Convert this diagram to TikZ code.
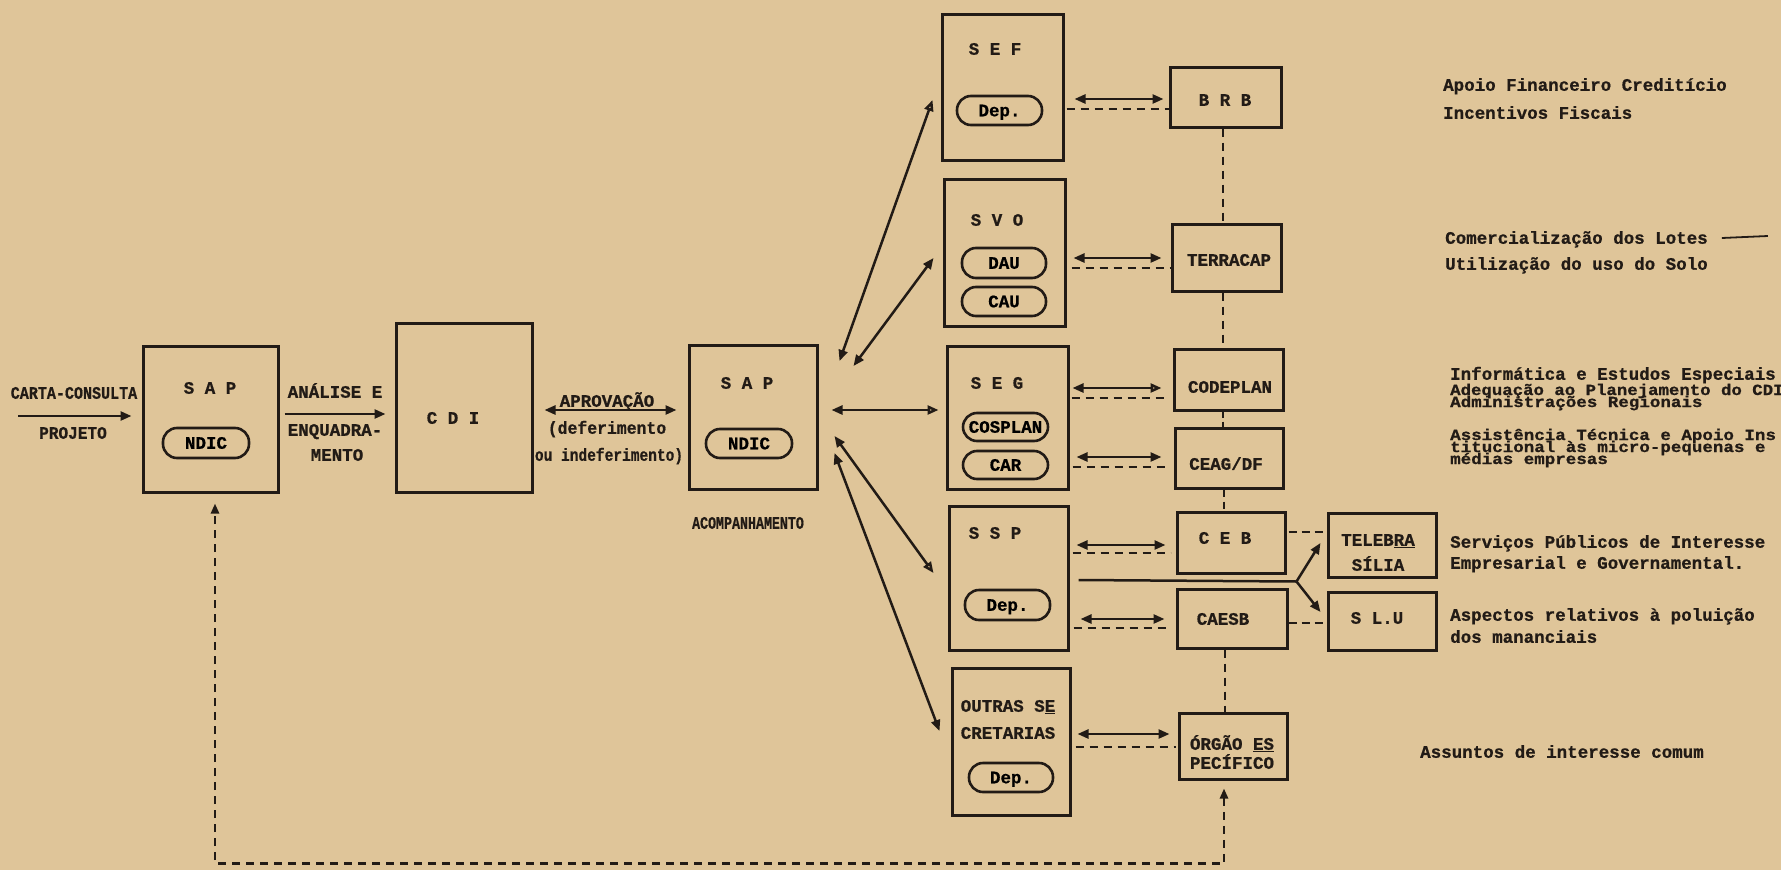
\documentclass[tikz,border=0pt]{standalone}
\usepackage{fontspec}
\setmainfont{Liberation Mono}[BoldFeatures={FakeBold=0.8}]
\usetikzlibrary{arrows.meta,calc}
\definecolor{paper}{RGB}{223,197,153}
\definecolor{ink}{RGB}{34,27,22}
\tikzset{
  box/.style={draw=ink, line width=3pt, inner sep=0pt},
  pill/.style={draw=ink, line width=2.6pt, rounded corners=14pt, inner sep=0pt, text height=11.5pt, text depth=0pt},
  t/.style={inner sep=0pt, text=ink, text height=11.5pt, text depth=0pt},
  tw/.style={t, anchor=west},
  tws/.style={inner sep=0pt, text=ink, anchor=west, text height=9.5pt, text depth=1.5pt, font=\bfseries\fontsize{15.5}{16}\selectfont},
  ar/.style={draw=ink, line width=2.5pt},
  dbl/.style={ar, {Triangle[length=11pt,width=9pt]}-{Triangle[length=11pt,width=9pt]}},
  dblo/.style={ar, {Triangle[length=11pt,width=9pt]}-{Triangle[open,length=11pt,width=9pt]}},
  sgl/.style={ar, -{Triangle[length=11pt,width=9pt]}},
  dsh/.style={draw=ink, line width=2.6pt, dash pattern=on 8pt off 6pt},
}
\begin{document}
\begin{tikzpicture}[x=1pt,y=-1pt, font=\bfseries\fontsize{17.5}{20}\selectfont]
\fill[paper] (0,0) rectangle (1781,870);
\useasboundingbox (0,0) rectangle (1781,870);
\clip (0,0) rectangle (1781,870);

% ---------- main boxes ----------
\node[box, minimum width=135pt, minimum height=146pt] (sap1) at (210.5,419) {};
\node[box, minimum width=136pt, minimum height=169pt] (cdi) at (464,407.5) {};
\node[box, minimum width=128pt, minimum height=144pt] (sap2) at (753,417) {};
\node[box, minimum width=121pt, minimum height=146pt] (sef) at (1002.5,87) {};
\node[box, minimum width=121pt, minimum height=147pt] (svo) at (1004.5,252.5) {};
\node[box, minimum width=121pt, minimum height=143pt] (seg) at (1007.5,417.5) {};
\node[box, minimum width=119pt, minimum height=144pt] (ssp) at (1008.5,578) {};
\node[box, minimum width=118pt, minimum height=147pt] (outras) at (1011,741.5) {};

\node[box, minimum width=111pt, minimum height=60pt] (brb) at (1225.5,97) {};
\node[box, minimum width=109pt, minimum height=67pt] (terr) at (1226.5,257.5) {};
\node[box, minimum width=109pt, minimum height=61pt] (codeplan) at (1228.5,379.5) {};
\node[box, minimum width=108pt, minimum height=60pt] (ceag) at (1229,458) {};
\node[box, minimum width=108pt, minimum height=61pt] (ceb) at (1231,542.5) {};
\node[box, minimum width=110pt, minimum height=59pt] (caesb) at (1232,618.5) {};
\node[box, minimum width=108pt, minimum height=66pt] (orgao) at (1233,746) {};
\node[box, minimum width=108pt, minimum height=64pt] (tele) at (1382,545) {};
\node[box, minimum width=108pt, minimum height=58pt] (slu) at (1382,621) {};

% ---------- pills ----------
\node[pill, minimum width=86pt, minimum height=30pt] (ndic1) at (206,443) {NDIC};
\node[pill, minimum width=86pt, minimum height=29pt] (ndic2) at (749,443.5) {NDIC};
\node[pill, minimum width=85pt, minimum height=29pt] (sefdep) at (999.5,110.5) {Dep.};
\node[pill, minimum width=84pt, minimum height=30pt] (dau) at (1004,263) {DAU};
\node[pill, minimum width=84pt, minimum height=29pt] (cau) at (1004,301.5) {CAU};
\node[pill, minimum width=85pt, minimum height=28pt] (cosplan) at (1005.5,427) {COSPLAN};
\node[pill, minimum width=85pt, minimum height=28pt] (car) at (1005.5,465) {CAR};
\node[pill, minimum width=85pt, minimum height=30pt] (sspdep) at (1007.5,605) {Dep.};
\node[pill, minimum width=84pt, minimum height=29pt] (outdep) at (1011,777.5) {Dep.};

% ---------- titles ----------
\node[t] (tsap1) at (210,388) {S A P};
\node[t] (tcdi) at (453,418) {C D I};
\node[t] (tsap2) at (747,383) {S A P};
\node[t] (tsef) at (995,49) {S E F};
\node[t] (tsvo) at (997,220) {S V O};
\node[t] (tseg) at (997,383) {S E G};
\node[t] (tssp) at (995,533) {S S P};
\node[t] (tout1) at (1008,706) {OUTRAS S\underline{E}};
\node[t] (tout2) at (1008,733) {CRETARIAS};
\node[t] (tbrb) at (1225,100) {B R B};
\node[t] (tterr) at (1229,260) {TERRACAP};
\node[t] (tcode) at (1230,387) {CODEPLAN};
\node[t] (tceag) at (1226,464) {CEAG/DF};
\node[t] (tceb) at (1225,538) {C E B};
\node[t] (tcaesb) at (1223,619) {CAESB};
\node[t] (torg1) at (1232,744) {ÓRGÃO \underline{ES}};
\node[t] (torg2) at (1232,763) {PECÍFICO};
\node[t] (ttel1) at (1378,540) {TELEB\underline{RA}};
\node[t] (ttel2) at (1378,565) {SÍLIA};
\node[t] (tslu) at (1377,618) {S L.U};

% ---------- left-hand labels ----------
\node[t] (lcarta) at (74,393) {\scalebox{0.86}[1]{CARTA-CONSULTA}};
\node[t] (lproj) at (73,433) {\scalebox{0.92}[1]{PROJETO}};
\node[t] (lan1) at (335,392) {ANÁLISE E};
\node[t] (lan2) at (335,430) {ENQUADRA-};
\node[t] (lan3) at (337,455) {MENTO};
\node[t] (lap1) at (607,401) {APROVAÇÃO};
\node[t] (lap2) at (607,428) {\scalebox{0.94}[1]{(deferimento}};
\node[t] (lap3) at (609,455) {\scalebox{0.83}[1]{ou indeferimento)}};
\node[t] (lacomp) at (748,523) {\scalebox{0.76}[1]{ACOMPANHAMENTO}};

% ---------- right-hand texts ----------
\node[tw] (r1) at (1443,85) {Apoio Financeiro Creditício};
\node[tw] (r2) at (1443,113) {Incentivos Fiscais};
\node[tw] (r3) at (1445,238) {Comercialização dos Lotes};
\node[tw] (r4) at (1445,264) {Utilização do uso do Solo};
\node[tw] (r5) at (1450,374) {Informática e Estudos Especiais};
\node[tws] (r6) at (1450,391) {\scalebox{1.12}[1]{Adequação ao Planejamento do CDI}};
\node[tws] (r7) at (1450,403) {\scalebox{1.13}[1]{Administrações Regionais}};
\node[tws] (r8) at (1450,436) {\scalebox{1.13}[1]{Assistência Técnica e Apoio Ins}};
\node[tws] (r9) at (1450,448) {\scalebox{1.13}[1]{titucional às micro-pequenas e}};
\node[tws] (r10) at (1450,460) {\scalebox{1.13}[1]{médias empresas}};
\node[tw] (r11) at (1450,542) {Serviços Públicos de Interesse};
\node[tw] (r12) at (1450,563) {Empresarial e Governamental.};
\node[tw] (r13) at (1450,615) {Aspectos  relativos à poluição};
\node[tw] (r14) at (1450,637) {dos mananciais};
\node[tw] (r15) at (1420,752) {Assuntos de interesse comum};
\draw[ink, line width=1.8pt] ($(r3.east)+(14,0)$) -- ($(r3.east)+(60,-2)$);

% ---------- left flow ----------
\coordinate (cin) at (18,416);
\draw[sgl] (cin) -- ($(sap1.west)+(-10,-3)$);
\draw[sgl] ($(sap1.east)+(5,-5)$) -- ($(cdi.west)+(-9,6.5)$);
\draw[dbl] ($(cdi.east)+(11,2.5)$) -- ($(sap2.west)+(-11,-7)$);

% ---------- SAP2 to secretariats ----------
\draw[dblo] ($(sap2.east)+(21,-56)$) -- ($(sef.west)+(-8,13)$);
\draw[dbl]  ($(sap2.east)+(35,-51)$) -- ($(svo.west)+(-9,5.5)$);
\draw[dblo] ($(sap2.east)+(13,-7)$) -- ($(seg.west)+(-7,-7.5)$);
\draw[dblo] ($(sap2.east)+(16,19)$) -- ($(ssp.west)+(-14,-5)$);
\draw[dbl]  ($(sap2.east)+(16,36)$) -- ($(outras.west)+(-11,-10.5)$);

% ---------- secretariats to companies ----------
\draw[dbl] ($(sef.east)+(10,12)$) -- ($(brb.west)+(-5,2)$);
\draw[dsh] ($(sef.east)+(2,22)$) -- ($(brb.west)+(0,12)$);
\draw[dbl] ($(svo.east)+(7,5.5)$) -- ($(terr.west)+(-9,0.5)$);
\draw[dsh] ($(svo.east)+(5,15.5)$) -- ($(terr.west)+(0,10.5)$);
\draw[dblo] ($(seg.east)+(3,-29.5)$) -- ($(codeplan.west)+(-11,8.5)$);
\draw[dsh] ($(seg.east)+(2,-19.5)$) -- ($(codeplan.west)+(-4,18.5)$);
\draw[dbl] ($(seg.east)+(7,39.5)$) -- ($(ceag.west)+(-12,-1)$);
\draw[dsh] ($(seg.east)+(3,49.5)$) -- ($(ceag.west)+(-6,9)$);
\draw[dbl] ($(ssp.east)+(7,-33)$) -- ($(ceb.west)+(-10,2.5)$);
\draw[dsh] ($(ssp.east)+(3,-25)$) -- ($(ceb.west)+(-5,10.5)$);
\draw[dbl] ($(ssp.east)+(11,41)$) -- ($(caesb.west)+(-11,0.5)$);
\draw[dsh] ($(ssp.east)+(4,50)$) -- ($(caesb.west)+(-5,9.5)$);
\draw[dbl] ($(outras.east)+(6,-7.5)$) -- ($(orgao.west)+(-8,-12)$);
\draw[dsh] ($(outras.east)+(4,5.5)$) -- ($(orgao.west)+(-2,1)$);

% ---------- vertical dashed chain ----------
\coordinate (v1) at ($(brb.south)+(-2.5,0)$);
\draw[dsh] (v1) -- (v1 |- terr.north);
\coordinate (v2) at ($(terr.south)+(-3.5,0)$);
\draw[dsh] (v2) -- (v2 |- codeplan.north);
\coordinate (v3) at ($(codeplan.south)+(-5.5,0)$);
\draw[dsh, dash pattern=on 6pt off 4pt] (v3) -- (v3 |- ceag.north);
\coordinate (v4) at ($(ceag.south)+(-5,0)$);
\draw[dsh, dash pattern=on 7pt off 5pt] (v4) -- (v4 |- ceb.north);
\coordinate (v5) at ($(caesb.south)+(-7,0)$);
\draw[dsh] (v5) -- (v5 |- orgao.north);

% ---------- side links ----------
\draw[dsh, dash pattern=on 8pt off 5pt] ($(ceb.east)+(2,-10.5)$) -- ($(tele.west)+(0,-13)$);
\draw[dsh, dash pattern=on 8pt off 5pt] ($(caesb.east)+(0,4.5)$) -- ($(slu.west)+(0,2)$);
\coordinate (fk) at ($(ceb.south east)+(10,7)$);
\draw[ar] ($(ssp.east)+(9,2)$) -- (fk);
\draw[sgl] (fk) -- ($(tele.west)+(-6,-2)$);
\draw[sgl] (fk) -- ($(slu.west)+(-6,-9)$);

% ---------- feedback loop ----------
\coordinate (fbA) at ($(orgao.south)+(-9,8)$);
\coordinate (fbB) at ($(fbA)+(0,75)$);
\coordinate (fbD) at ($(sap1.south)+(4.5,10)$);
\coordinate (fbC) at (fbD |- fbB);
\draw[dsh, {Triangle[length=10pt,width=8pt]}-{Triangle[length=10pt,width=8pt]}] (fbA) -- (fbB) -- (fbC) -- (fbD);
\end{tikzpicture}
\end{document}
